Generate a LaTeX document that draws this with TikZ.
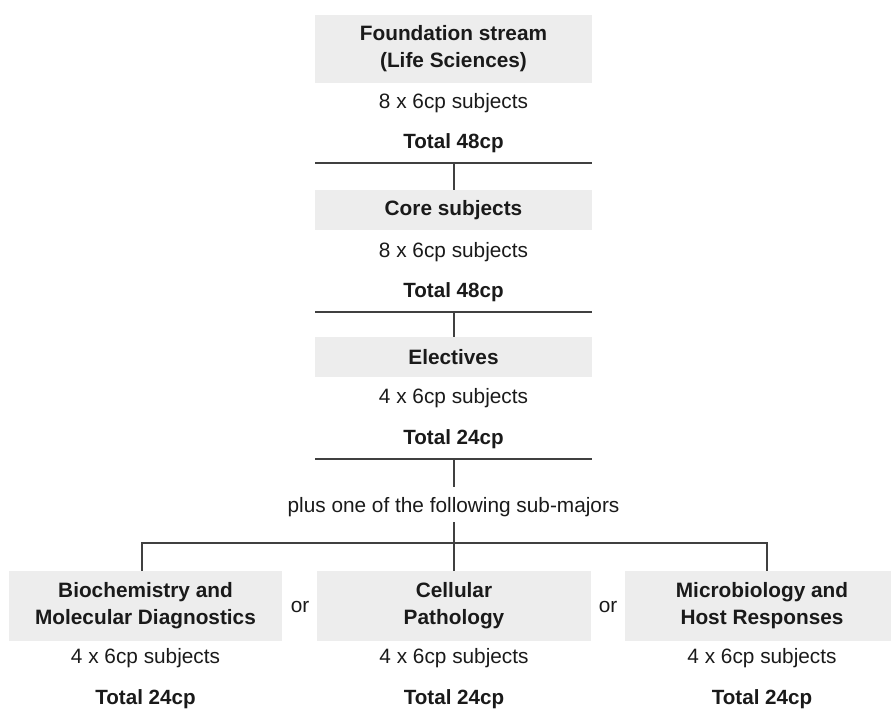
\documentclass[tikz,border=0pt]{standalone}
\usepackage{fontspec}
\setmainfont{Liberation Sans}
\definecolor{boxgray}{HTML}{EDEDED}
\definecolor{linegray}{HTML}{404040}
\definecolor{txt}{HTML}{1A1A1A}
\begin{document}
\begin{tikzpicture}[x=1pt,y=-1pt,
  box/.style={fill=boxgray,draw=none,inner sep=0pt,font=\fontsize{20.8}{27}\selectfont\bfseries,text=txt,align=center},
  plain/.style={inner sep=0pt,font=\fontsize{20.8}{24}\selectfont,text=txt},
  tot/.style={inner sep=0pt,font=\fontsize{20.6}{24}\selectfont\bfseries,text=txt},
  conn/.style={draw=linegray,line width=1.1pt}]
\useasboundingbox (0,0) rectangle (891,713);
\clip (0,0) rectangle (891,713);
% Foundation
\node[box,minimum width=277pt,minimum height=68pt] (b1) at (453.5,49) {Foundation stream\\(Life Sciences)};
\node[plain] (s1) at (453.5,103) {8 x 6cp subjects};
\node[tot] (t1) at (453.5,143) {Total 48cp};
\coordinate (l1a) at (315,163);
\coordinate (l1b) at (592,163);
\coordinate (l1c) at (454,163);
% Core
\node[box,minimum width=277pt,minimum height=40pt] (b2) at (453.5,210) {Core subjects};
\node[plain] (s2) at (453.5,252) {8 x 6cp subjects};
\node[tot] (t2) at (453.5,292) {Total 48cp};
\coordinate (l2a) at (315,312);
\coordinate (l2b) at (592,312);
\coordinate (l2c) at (454,312);
% Electives
\node[box,minimum width=277pt,minimum height=40pt] (b3) at (453.5,357) {Electives};
\node[plain] (s3) at (453.5,398) {4 x 6cp subjects};
\node[tot] (t3) at (453.5,439) {Total 24cp};
\coordinate (l3a) at (315,459);
\coordinate (l3b) at (592,459);
\coordinate (l3c) at (454,459);
\node[plain] (plus) at (453.5,507) {plus one of the following sub-majors};
\coordinate (pj) at (454,543);
\coordinate (pl) at (142,543);
\coordinate (pr) at (767,543);
% Sub-majors
\node[box,minimum width=273pt,minimum height=70pt] (bl) at (145.5,606) {Biochemistry and\\Molecular Diagnostics};
\node[box,minimum width=274pt,minimum height=70pt] (bm) at (454,606) {Cellular\\Pathology};
\node[box,minimum width=274pt,minimum height=70pt] (br) at (762,606) {Microbiology and\\Host Responses};
\node[plain] (or1) at (300,607) {or};
\node[plain] (or2) at (608,607) {or};
\node[plain] (sl) at (145.5,658) {4 x 6cp subjects};
\node[tot] (tl) at (145.5,699) {Total 24cp};
\node[plain] (sm) at (454,658) {4 x 6cp subjects};
\node[tot] (tm) at (454,699) {Total 24cp};
\node[plain] (sr) at (762,658) {4 x 6cp subjects};
\node[tot] (tr) at (762,699) {Total 24cp};
% connectors
\draw[conn] (l1a) -- (l1b);
\draw[conn] (l1c) -- (l1c |- b2.north);
\draw[conn] (l2a) -- (l2b);
\draw[conn] (l2c) -- (l2c |- b3.north);
\draw[conn] (l3a) -- (l3b);
\draw[conn] (l3c) -- (454,487);
\draw[conn] (454,522) -- (pj |- bm.north);
\draw[conn] (pl |- bl.north) -- (pl) -- (pr) -- (pr |- br.north);
\end{tikzpicture}
\end{document}
